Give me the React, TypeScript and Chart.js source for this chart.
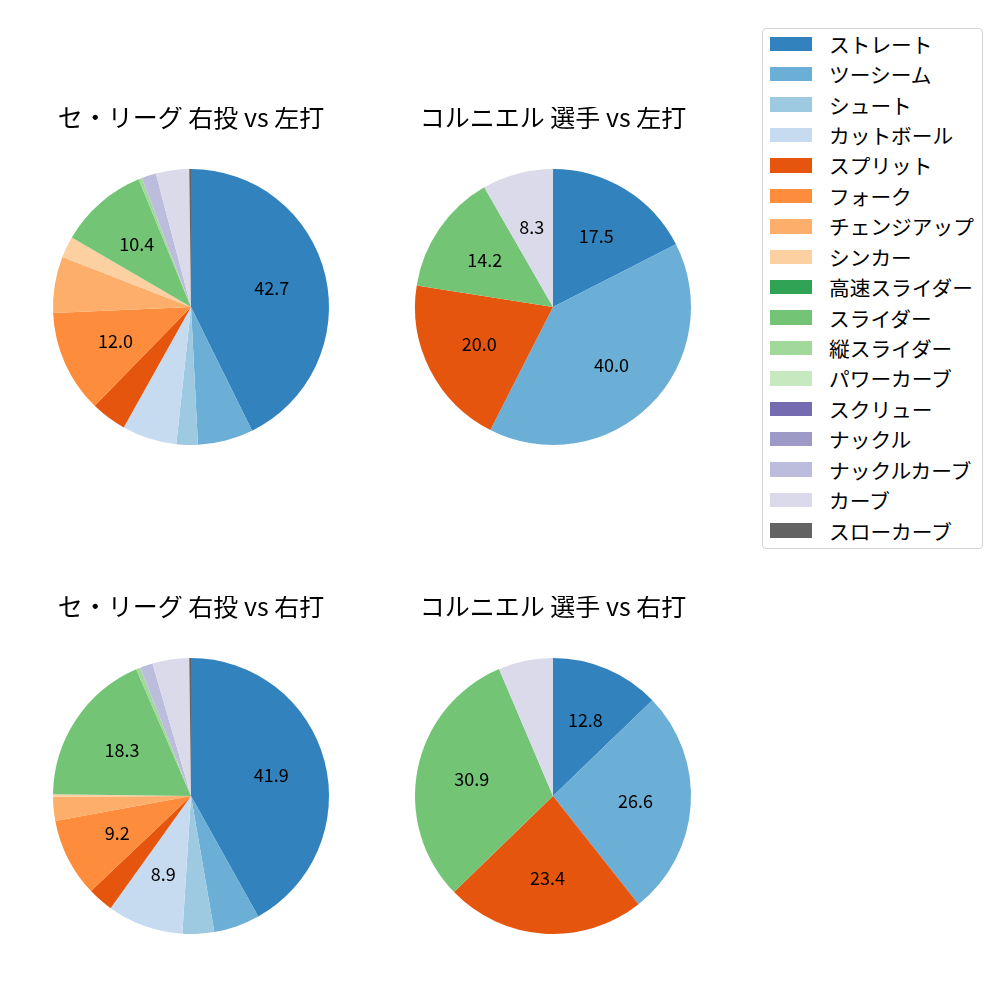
import React, { useEffect, useRef } from "react";
import { Chart, registerables } from "chart.js";

Chart.register(...registerables);

const FONT = '"Noto Sans CJK JP", "Noto Sans", sans-serif';

const pitchTypes = [
  "ストレート",
  "ツーシーム",
  "シュート",
  "カットボール",
  "スプリット",
  "フォーク",
  "チェンジアップ",
  "シンカー",
  "高速スライダー",
  "スライダー",
  "縦スライダー",
  "パワーカーブ",
  "スクリュー",
  "ナックル",
  "ナックルカーブ",
  "カーブ",
  "スローカーブ",
];

const pitchColors = [
  "#3182bd", "#6baed6", "#9ecae1", "#c6dbef",
  "#e6550d", "#fd8d3c", "#fdae6b", "#fdd0a2",
  "#31a354", "#74c476", "#a1d99b", "#c7e9c0",
  "#756bb1", "#9e9ac8", "#bcbddc", "#dadaeb",
  "#636363",
];

// セ・リーグ 右投 vs 左打
const leagueVsLeft = [42.7, 6.5, 2.5, 6.4, 4.2, 12.0, 6.6, 2.5, 0, 10.4, 0.4, 0, 0, 0, 1.7, 3.9, 0.2];
// コルニエル 選手 vs 左打
const playerVsLeft = [17.5, 40.0, 0, 0, 20.0, 0, 0, 0, 0, 14.2, 0, 0, 0, 0, 0, 8.3, 0];
// セ・リーグ 右投 vs 右打
const leagueVsRight = [41.9, 5.4, 3.7, 8.9, 3.0, 9.2, 2.8, 0.3, 0, 18.3, 0.5, 0, 0, 0, 1.5, 4.3, 0.2];
// コルニエル 選手 vs 右打
const playerVsRight = [12.8, 26.6, 0, 0, 23.4, 0, 0, 0, 0, 30.9, 0, 0, 0, 0, 0, 6.4, 0];

const chartTitles = [
  "セ・リーグ 右投 vs 左打",
  "コルニエル 選手 vs 左打",
  "セ・リーグ 右投 vs 右打",
  "コルニエル 選手 vs 右打",
];

const LABEL_MIN_PCT = 7;

const CANVAS_W = 360;
const CANVAS_H = 400;
const RADIUS = 138;

const pctLabelPlugin = {
  id: "pctLabels",
  afterDatasetsDraw(chart: any) {
    const ctx = chart.ctx;
    const meta = chart.getDatasetMeta(0);
    const data = chart.data.datasets[0].data as number[];
    const total = data.reduce((a, b) => a + b, 0);
    ctx.save();
    ctx.font = `18px ${FONT}`;
    ctx.fillStyle = "#000";
    ctx.textAlign = "center";
    ctx.textBaseline = "middle";
    meta.data.forEach((arc: any, i: number) => {
      const pct = (data[i] / total) * 100;
      if (pct < LABEL_MIN_PCT) return;
      const p = arc.getProps(["x", "y", "startAngle", "endAngle", "outerRadius"], true);
      const mid = (p.startAngle + p.endAngle) / 2;
      const r = p.outerRadius * 0.6;
      ctx.fillText(pct.toFixed(1), p.x + Math.cos(mid) * r, p.y + Math.sin(mid) * r);
    });
    ctx.restore();
  },
};

const titlePlugin = {
  id: "pieTitle",
  afterDraw(chart: any, _args: any, opts: any) {
    const ctx = chart.ctx;
    ctx.save();
    ctx.font = `25px ${FONT}`;
    ctx.fillStyle = "#000";
    ctx.textAlign = "center";
    ctx.textBaseline = "middle";
    ctx.fillText(opts.text, chart.width / 2, opts.y);
    ctx.restore();
  },
};

function PieChart(props: { values: number[]; title: string; cx: number; cy: number; titleY: number }) {
  const ref = useRef<HTMLCanvasElement | null>(null);
  useEffect(() => {
    if (!ref.current) return;
    const chart = new Chart(ref.current, {
      type: "pie",
      data: {
        labels: pitchTypes,
        datasets: [
          {
            data: props.values,
            backgroundColor: pitchColors,
            borderWidth: 0,
            hoverOffset: 0,
          },
        ],
      },
      options: {
        responsive: false,
        animation: false,
        devicePixelRatio: 1,
        radius: RADIUS,
        layout: { padding: 0 },
        plugins: {
          legend: { display: false },
          tooltip: { enabled: false },
          title: { display: false },
          pieTitle: { text: props.title, y: props.titleY - (props.cy - CANVAS_H / 2) },
        } as any,
      } as any,
      plugins: [pctLabelPlugin, titlePlugin],
    });
    return () => chart.destroy();
  }, []);
  return (
    <canvas
      ref={ref}
      width={CANVAS_W}
      height={CANVAS_H}
      style={{
        position: "absolute",
        left: props.cx - CANVAS_W / 2,
        top: props.cy - CANVAS_H / 2,
        width: CANVAS_W,
        height: CANVAS_H,
      }}
    />
  );
}

function Legend() {
  const top = 28;
  const left = 762;
  const rowStart = 43.8;
  const rowStep = 30.42;
  return (
    <div
      style={{
        position: "absolute",
        left,
        top,
        width: 219,
        height: 519,
        border: "1px solid #d6d6d6",
        borderRadius: 4,
        background: "#fff",
      }}
    >
      {pitchTypes.map((name, i) => {
        const cy = rowStart + i * rowStep - top - 1;
        return (
          <React.Fragment key={name}>
            <div
              style={{
                position: "absolute",
                left: 770 - left - 1,
                top: cy - 7.2,
                width: 42,
                height: 14.4,
                background: pitchColors[i],
              }}
            />
            <div
              style={{
                position: "absolute",
                left: 829 - left - 1,
                top: cy - 15,
                height: 30,
                lineHeight: "30px",
                fontFamily: FONT,
                fontSize: 20.7,
                color: "#000",
                whiteSpace: "nowrap",
              }}
            >
              {name}
            </div>
          </React.Fragment>
        );
      })}
    </div>
  );
}

export default function App() {
  return (
    <div
      style={{
        position: "absolute",
        left: 0,
        top: 0,
        width: 1000,
        height: 1000,
        background: "#fff",
        overflow: "hidden",
      }}
    >
      <PieChart values={leagueVsLeft} title={chartTitles[0]} cx={191} cy={307} titleY={117} />
      <PieChart values={playerVsLeft} title={chartTitles[1]} cx={553} cy={307} titleY={117} />
      <PieChart values={leagueVsRight} title={chartTitles[2]} cx={191} cy={796} titleY={606} />
      <PieChart values={playerVsRight} title={chartTitles[3]} cx={553} cy={796} titleY={606} />
      <Legend />
    </div>
  );
}
